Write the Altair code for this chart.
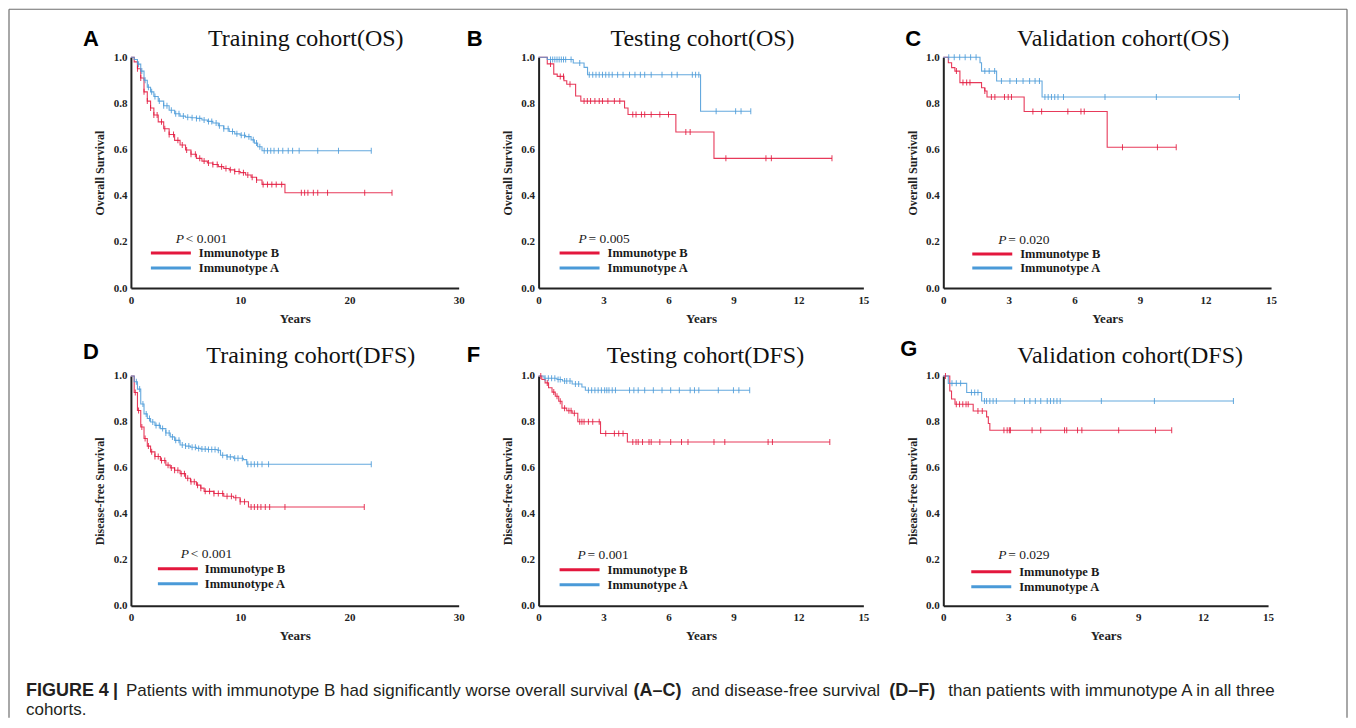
import altair as alt
import pandas as pd
import numpy as np

RED = "#e3173d"
BLUE = "#4a9ad8"
GROUPS = ["Immunotype B", "Immunotype A"]
SERIF = "Liberation Serif"
SANS = "Liberation Sans"

# ---------------- data ----------------
# Panel A: Training cohort (OS)
A_B_t = [0, 0.3, 0.6, 0.9, 1.2, 1.5, 1.8, 2.1, 2.5, 3.0, 3.5, 4.0, 4.5, 5.0, 5.5, 6.0, 6.5, 7.0, 7.5, 8.0,
         8.5, 9.0, 9.5, 10.0, 10.5, 11.0, 11.5, 12.0, 14.1, 23.9]
A_B_s = [1.0, 0.98, 0.95, 0.91, 0.85, 0.81, 0.78, 0.75, 0.72, 0.69, 0.665, 0.64, 0.62, 0.598, 0.58, 0.562,
         0.55, 0.542, 0.535, 0.526, 0.518, 0.512, 0.505, 0.50, 0.49, 0.48, 0.468, 0.449, 0.413, 0.413]
A_B_c = [0.6, 0.9, 1.2, 1.5, 1.8, 2.1, 2.4, 2.8, 3.1, 3.5, 3.9, 4.3, 4.7, 5.1, 5.5, 5.9, 6.3, 6.7, 7.1, 7.5,
         7.9, 8.3, 8.7, 9.1, 9.5, 9.9, 10.3, 10.7, 11.1, 11.5, 12.1, 12.5, 12.9, 13.3, 13.8, 15.6, 15.9, 16.2,
         16.7, 17.1, 18.0, 21.4, 23.9]
A_A_t = [0, 0.3, 0.6, 0.9, 1.2, 1.5, 1.8, 2.1, 2.5, 3.0, 3.5, 4.0, 4.5, 5.0, 5.5, 6.0, 6.5, 7.0, 7.5, 8.0,
         8.5, 9.0, 9.5, 10.0, 10.5, 11.0, 11.3, 11.6, 12.0, 22.0]
A_A_s = [1.0, 0.99, 0.97, 0.94, 0.90, 0.87, 0.85, 0.83, 0.81, 0.79, 0.77, 0.755, 0.745, 0.74, 0.738, 0.735,
         0.728, 0.722, 0.715, 0.703, 0.69, 0.678, 0.668, 0.662, 0.656, 0.642, 0.628, 0.612, 0.595, 0.595]
A_A_c = [0.7, 1.0, 1.3, 1.6, 1.9, 2.2, 2.6, 3.0, 3.3, 3.7, 4.1, 4.4, 4.8, 5.2, 5.6, 6.0, 6.3, 6.7, 7.1, 7.4,
         7.8, 8.1, 8.5, 8.9, 9.3, 9.7, 10.1, 10.4, 10.8, 11.2, 11.5, 11.8, 12.2, 12.5, 12.8, 13.1, 13.5, 13.9,
         14.4, 14.8, 15.4, 17.1, 19.0, 22.0]

# Panel B: Testing cohort (OS)
B_B_t = [0, 0.4, 0.7, 0.86, 1.17, 1.3, 1.71, 1.95, 3.97, 4.13, 6.34, 8.1, 13.55]
B_B_s = [1.0, 0.971, 0.927, 0.917, 0.898, 0.883, 0.832, 0.81, 0.78, 0.752, 0.676, 0.562, 0.562]
B_B_c = [0.55, 1.0, 1.15, 1.45, 2.1, 2.25, 2.4, 2.6, 2.8, 2.95, 3.2, 3.5, 3.75, 4.35, 4.5, 4.75, 4.9, 5.2,
         5.6, 6.0, 6.8, 7.0, 8.65, 10.5, 10.75, 13.55]
B_A_t = [0, 0.4, 1.6, 2.1, 2.26, 7.48, 9.8]
B_A_s = [1.0, 0.99, 0.975, 0.956, 0.924, 0.766, 0.766]
B_A_c = [0.55, 0.65, 0.75, 0.85, 0.95, 1.05, 1.15, 1.25, 1.5, 1.9, 2.34, 2.5, 2.65, 2.8, 2.95, 3.1, 3.25,
         3.4, 3.65, 3.9, 4.2, 4.45, 4.7, 4.9, 5.2, 5.7, 6.15, 6.4, 7.1, 7.25, 7.4, 8.2, 9.1, 9.35, 9.8]

# Panel C: Validation cohort (OS)
C_B_t = [0, 0.23, 0.38, 0.53, 0.76, 1.75, 1.9, 2.0, 3.7, 7.5, 10.66]
C_B_s = [1.0, 0.976, 0.955, 0.94, 0.89, 0.868, 0.854, 0.828, 0.765, 0.61, 0.61]
C_B_c = [0.6, 0.9, 1.07, 1.22, 1.9, 2.2, 2.36, 2.8, 2.97, 3.12, 4.1, 4.5, 5.7, 6.3, 6.45, 8.2, 9.8, 10.66]
C_A_t = [0, 1.68, 1.75, 2.44, 4.52, 13.55]
C_A_s = [1.0, 0.976, 0.94, 0.897, 0.828, 0.828]
C_A_c = [0.25, 0.5, 0.75, 1.0, 1.25, 1.5, 1.9, 2.1, 2.35, 2.66, 3.05, 3.35, 3.65, 3.95, 4.2, 4.4, 4.65, 4.8,
         4.95, 5.1, 5.25, 5.5, 7.4, 9.75, 13.55]

# Panel D: Training cohort (DFS)
D_B_t = [0, 0.3, 0.6, 0.9, 1.2, 1.5, 1.8, 2.2, 2.7, 3.2, 3.6, 4.0, 4.5, 5.0, 5.45, 6.0, 6.4, 6.7, 7.6, 8.5,
         9.4, 10.0, 10.76, 21.36]
D_B_s = [1.0, 0.928, 0.85, 0.778, 0.728, 0.695, 0.67, 0.65, 0.632, 0.612, 0.60, 0.59, 0.575, 0.555, 0.54,
         0.525, 0.512, 0.498, 0.489, 0.477, 0.47, 0.453, 0.43, 0.43]
D_B_c = [0.4, 0.7, 1.0, 1.3, 1.6, 1.9, 2.2, 2.5, 2.8, 3.1, 3.4, 3.7, 4.0, 4.3, 4.6, 4.9, 5.2, 5.5, 5.8, 6.1,
         6.4, 6.8, 7.2, 7.6, 8.0, 8.4, 8.8, 9.2, 9.6, 10.0, 10.4, 11.0, 11.3, 11.6, 11.9, 12.3, 12.7, 14.1, 21.36]
D_A_t = [0, 0.3, 0.6, 0.9, 1.2, 1.5, 1.8, 2.2, 2.7, 3.2, 3.6, 4.0, 4.5, 5.0, 5.45, 6.0, 6.4, 7.0, 7.9, 8.2,
         8.8, 9.4, 10.3, 10.6, 22.0]
D_A_s = [1.0, 0.975, 0.943, 0.878, 0.835, 0.815, 0.80, 0.785, 0.771, 0.752, 0.735, 0.72, 0.70, 0.695, 0.69,
         0.685, 0.682, 0.68, 0.677, 0.655, 0.648, 0.642, 0.636, 0.616, 0.616]
D_A_c = [0.5, 0.8, 1.1, 1.4, 1.7, 2.0, 2.3, 2.6, 2.9, 3.2, 3.5, 3.8, 4.1, 4.4, 4.7, 5.0, 5.3, 5.6, 5.9, 6.2,
         6.5, 6.8, 7.1, 7.4, 7.7, 8.0, 8.4, 8.8, 9.1, 9.5, 9.8, 10.2, 10.7, 11.0, 11.3, 11.6, 12.0, 12.6, 22.0]

# Panel F: Testing cohort (DFS)
F_B_t = [0, 0.15, 0.3, 0.46, 0.62, 0.77, 0.93, 1.08, 1.3, 1.55, 1.81, 2.86, 4.1, 13.45]
F_B_s = [1.0, 0.985, 0.97, 0.949, 0.93, 0.912, 0.89, 0.86, 0.849, 0.838, 0.801, 0.75, 0.713, 0.713]
F_B_c = [0.1, 0.4, 0.7, 0.85, 1.0, 1.2, 1.4, 1.5, 1.65, 1.9, 2.0, 2.1, 2.3, 2.5, 2.8, 3.1, 3.5, 3.7, 3.9,
         4.35, 4.5, 4.6, 4.8, 5.1, 5.2, 5.6, 6.1, 6.6, 6.9, 8.1, 8.6, 10.6, 10.8, 13.45]
F_A_t = [0, 0.25, 0.85, 1.1, 1.55, 2.0, 2.16, 9.75]
F_A_s = [1.0, 0.99, 0.985, 0.978, 0.965, 0.952, 0.938, 0.938]
F_A_c = [0.3, 0.45, 0.6, 0.75, 0.9, 1.0, 1.2, 1.3, 1.45, 1.7, 1.85, 2.3, 2.45, 2.6, 2.75, 2.9, 3.05, 3.15,
         3.25, 3.4, 3.55, 4.2, 4.4, 4.6, 4.9, 5.3, 5.7, 6.1, 6.5, 7.0, 7.2, 7.4, 8.3, 9.0, 9.25, 9.75]

# Panel G: Validation cohort (DFS)
G_B_t = [0, 0.3, 0.38, 0.54, 1.38, 2.0, 2.08, 2.15, 10.55]
G_B_s = [1.0, 0.935, 0.9, 0.877, 0.848, 0.822, 0.793, 0.764, 0.764]
G_B_c = [0.1, 0.6, 0.75, 0.9, 1.05, 1.15, 1.6, 1.8, 2.8, 2.95, 3.05, 3.1, 4.1, 4.5, 5.6, 5.7, 6.2, 6.4,
         8.1, 9.8, 10.55]
G_A_t = [0, 0.23, 1.08, 1.77, 13.4]
G_A_s = [1.0, 0.968, 0.928, 0.891, 0.891]
G_A_c = [0.4, 0.6, 0.8, 1.3, 1.45, 1.6, 1.9, 2.0, 2.15, 2.3, 2.45, 3.3, 3.75, 4.0, 4.25, 4.5, 4.8, 4.95,
         5.1, 5.25, 5.4, 7.3, 9.75, 13.4]

TITLES = ["Training cohort(OS)", "Testing cohort(OS)", "Validation cohort(OS)",
          "Training cohort(DFS)", "Testing cohort(DFS)", "Validation cohort(DFS)"]
LETTERS = ["A", "B", "C", "D", "F", "G"]
PVALS = ["< 0.001", "= 0.005", "= 0.020", "< 0.001", "= 0.001", "= 0.029"]
YTITLES = ["Overall Survival"] * 3 + ["Disease-free Survival"] * 3
XMAX = [30, 15, 15, 30, 15, 15]
XTICKS = [[0, 10, 20, 30]] + [[0, 3, 6, 9, 12, 15]] * 2 + [[0, 10, 20, 30]] + [[0, 3, 6, 9, 12, 15]] * 2

CAPTION = [("FIGURE 4", "bold", -105), ("|", "bold", -18),
           ("Patients with immunotype B had significantly worse overall survival", "normal", -5),
           ("(A\u2013C)", "bold", 503), ("and disease-free survival", "normal", 561),
           ("(D\u2013F)", "bold", 759), ("than patients with immunotype A in all three", "normal", 818)]
CAPTION2 = "cohorts."

SERIES = {
    "A": (A_B_t, A_B_s, A_B_c, A_A_t, A_A_s, A_A_c),
    "B": (B_B_t, B_B_s, B_B_c, B_A_t, B_A_s, B_A_c),
    "C": (C_B_t, C_B_s, C_B_c, C_A_t, C_A_s, C_A_c),
    "D": (D_B_t, D_B_s, D_B_c, D_A_t, D_A_s, D_A_c),
    "F": (F_B_t, F_B_s, F_B_c, F_A_t, F_A_s, F_A_c),
    "G": (G_B_t, G_B_s, G_B_c, G_A_t, G_A_s, G_A_c),
}

# ---------------- layout (pixel offsets relative to each plot area) ----------------
SIZE = {"A": (328, 231), "B": (325, 231), "C": (328, 231),
        "D": (328, 230), "F": (325, 230), "G": (325, 230)}
LAY = {
    "A": dict(lx=-48, ly=-11, tx=175, ty=-11, px=45, py=186, l1=20, l2=60, r1=196, r2=211, lab=68),
    "B": dict(lx=-72, ly=-11, tx=164, ty=-11, px=40, py=186, l1=21, l2=61, r1=196, r2=211, lab=69),
    "C": dict(lx=-38, ly=-11, tx=180, ty=-11, px=55, py=187, l1=29, l2=69, r1=197, r2=211, lab=77),
    "D": dict(lx=-48, ly=-17, tx=180, ty=-13, px=50, py=182, l1=27, l2=67, r1=193, r2=208, lab=74),
    "F": dict(lx=-72, ly=-14, tx=167, ty=-13, px=39, py=183, l1=21, l2=61, r1=194, r2=209, lab=69),
    "G": dict(lx=-43, ly=-20, tx=187, ty=-13, px=55, py=183, l1=28, l2=68, r1=196, r2=211, lab=76),
}

ONE = pd.DataFrame({"k": [0]})
COLOR = alt.Color("g:N", scale=alt.Scale(domain=GROUPS, range=[RED, BLUE]), legend=None)


def step_lookup(t, s, c):
    idx = np.searchsorted(np.array(t), np.array(c), side="right") - 1
    return [s[i] for i in idx]


def panel(i, key):
    bt, bs, bc, at, as_, ac = SERIES[key]
    w, h = SIZE[key]
    L = LAY[key]
    curves = pd.concat([
        pd.DataFrame({"t": bt, "s": bs, "g": GROUPS[0]}),
        pd.DataFrame({"t": at, "s": as_, "g": GROUPS[1]}),
    ])
    cens = pd.concat([
        pd.DataFrame({"t": bc, "s": step_lookup(bt, bs, bc), "g": GROUPS[0]}),
        pd.DataFrame({"t": ac, "s": step_lookup(at, as_, ac), "g": GROUPS[1]}),
    ])
    xsc = alt.Scale(domain=[0, XMAX[i]], nice=False, zero=True)
    ysc = alt.Scale(domain=[0, 1], nice=False)
    xax = alt.Axis(values=XTICKS[i], title="Years", labelFlush=False, labelOverlap=False,
                   titleX=w / 2, titleY=34, titleAlign="center", titleBaseline="alphabetic",
                   titleFontSize=13)
    yax = alt.Axis(values=[0, 0.2, 0.4, 0.6, 0.8, 1.0], format=".1f", title=YTITLES[i],
                   labelFlush=False, labelOverlap=False, titleX=-31, titleY=h / 2,
                   titleAngle=270, titleAlign="center", titleBaseline="middle", titleFontSize=12)
    lines = alt.Chart(curves).mark_line(interpolate="step-after", strokeWidth=1.1, opacity=0.85).encode(
        x=alt.X("t:Q", scale=xsc, axis=xax),
        y=alt.Y("s:Q", scale=ysc, axis=yax),
        color=COLOR, detail="g:N")
    ticks = alt.Chart(cens).mark_tick(orient="vertical", size=6, thickness=1, opacity=0.85).encode(
        x=alt.X("t:Q", scale=xsc), y=alt.Y("s:Q", scale=ysc), color=COLOR)

    def txt(text, x, y, font=SERIF, size=13, weight="normal", style="normal", align="left",
            baseline="alphabetic", color="#1a1a1a"):
        return alt.Chart(ONE).mark_text(text=text, font=font, fontSize=size, fontWeight=weight,
                                        fontStyle=style, align=align, baseline=baseline,
                                        color=color).encode(x=alt.value(x), y=alt.value(y))

    def rule(x1, x2, y1, y2, color, sw):
        return alt.Chart(ONE).mark_rule(color=color, strokeWidth=sw).encode(
            x=alt.value(x1), x2=alt.value(x2), y=alt.value(y1), y2=alt.value(y2))

    layers = []
    if key == "A":
        fc = "#6e6e6e"
        layers += [rule(-122, 1217, -48, -48, fc, 1.2), rule(-122, -122, -48, 661, fc, 1.2),
                   rule(1217, 1217, -48, 661, fc, 1.2)]
    layers += [lines, ticks,
               txt(LETTERS[i], L["lx"], L["ly"], font=SANS, size=22, weight="bold", color="#000"),
               txt(TITLES[i], L["tx"], L["ty"], size=24, align="center", color="#111"),
               txt("P", L["px"], L["py"], size=13.5, style="italic"),
               txt(PVALS[i], L["px"] + 10, L["py"], size=13.5),
               rule(L["l1"], L["l2"], L["r1"], L["r1"], RED, 3),
               rule(L["l1"], L["l2"], L["r2"], L["r2"], BLUE, 3),
               txt(GROUPS[0], L["lab"], L["r1"], size=12.5, weight="bold", baseline="middle"),
               txt(GROUPS[1], L["lab"], L["r2"], size=12.5, weight="bold", baseline="middle")]
    if key == "D":
        for text, wt, x in CAPTION:
            sz = 18 if wt == "bold" else 17
            layers.append(txt(text, x, 320, font=SANS, size=sz, weight=wt, color="#231f20"))
        layers.append(txt(CAPTION2, -105, 339, font=SANS, size=17, color="#231f20"))
    return alt.layer(*layers).properties(width=w, height=h)


panels = [panel(i, k) for i, k in enumerate(["A", "B", "C", "D", "F", "G"])]

chart = alt.concat(*panels, columns=3, spacing={"row": 88, "column": 80}, bounds="flush").properties(
    padding=0, background="white"
).configure_view(stroke=None).configure_axis(
    grid=False, ticks=False, domainColor="#222", domainWidth=2,
    labelFont=SERIF, labelFontWeight="bold", labelFontSize=11, labelColor="#222",
    titleFont=SERIF, titleFontWeight="bold", titleColor="#222"
).configure_axisX(labelPadding=6).configure_axisY(labelPadding=4)

chart.save("out.html", embed_options={"renderer": "svg", "actions": False})
